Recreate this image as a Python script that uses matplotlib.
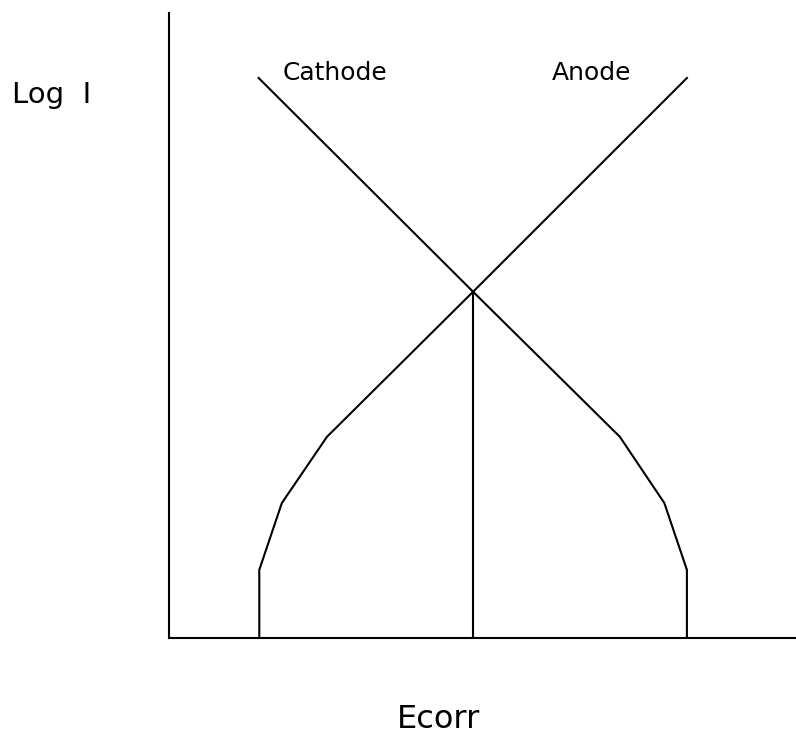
import matplotlib
matplotlib.use("Agg")
import matplotlib.pyplot as plt

# schematic Evans diagram, arbitrary units (x = potential, y = log current)
cathode_x = [14.3, 48.5, 71.9, 79.0, 82.6, 82.6]
cathode_y = [89.6, 55.4, 32.2, 21.6, 10.9, 0.0]
anode_x = [14.4, 14.4, 18.0, 25.2, 48.5, 82.6]
anode_y = [0.0, 10.9, 21.6, 32.2, 55.4, 89.6]
ecorr_x = [48.5, 48.5]
ecorr_y = [0.0, 55.4]

fig = plt.figure(figsize=(7.96, 7.34), dpi=100)
ax = fig.add_axes([169 / 796, 96 / 734, 627 / 796, 625 / 734])

lw = 1.5
ax.plot(cathode_x, cathode_y, color="black", lw=lw, solid_joinstyle="miter")
ax.plot(anode_x, anode_y, color="black", lw=lw, solid_joinstyle="miter")
ax.plot(ecorr_x, ecorr_y, color="black", lw=lw)

ax.set_xlim(0, 100)
ax.set_ylim(0, 100)
for s in ("top", "right"):
    ax.spines[s].set_visible(False)
for s in ("left", "bottom"):
    ax.spines[s].set_linewidth(lw)
ax.set_xticks([])
ax.set_yticks([])

ax.text(18.2, 89.3, "Cathode", fontsize=18, va="baseline", ha="left")
ax.text(61.1, 89.3, "Anode", fontsize=18, va="baseline", ha="left")

fig.text(12 / 796, (734 - 103) / 734, "Log  I", fontsize=21, va="baseline", ha="left")
fig.text(397 / 796, (734 - 728) / 734, "Ecorr", fontsize=23, va="baseline", ha="left")

fig.savefig("out.png", dpi=100)
plt.close(fig)
